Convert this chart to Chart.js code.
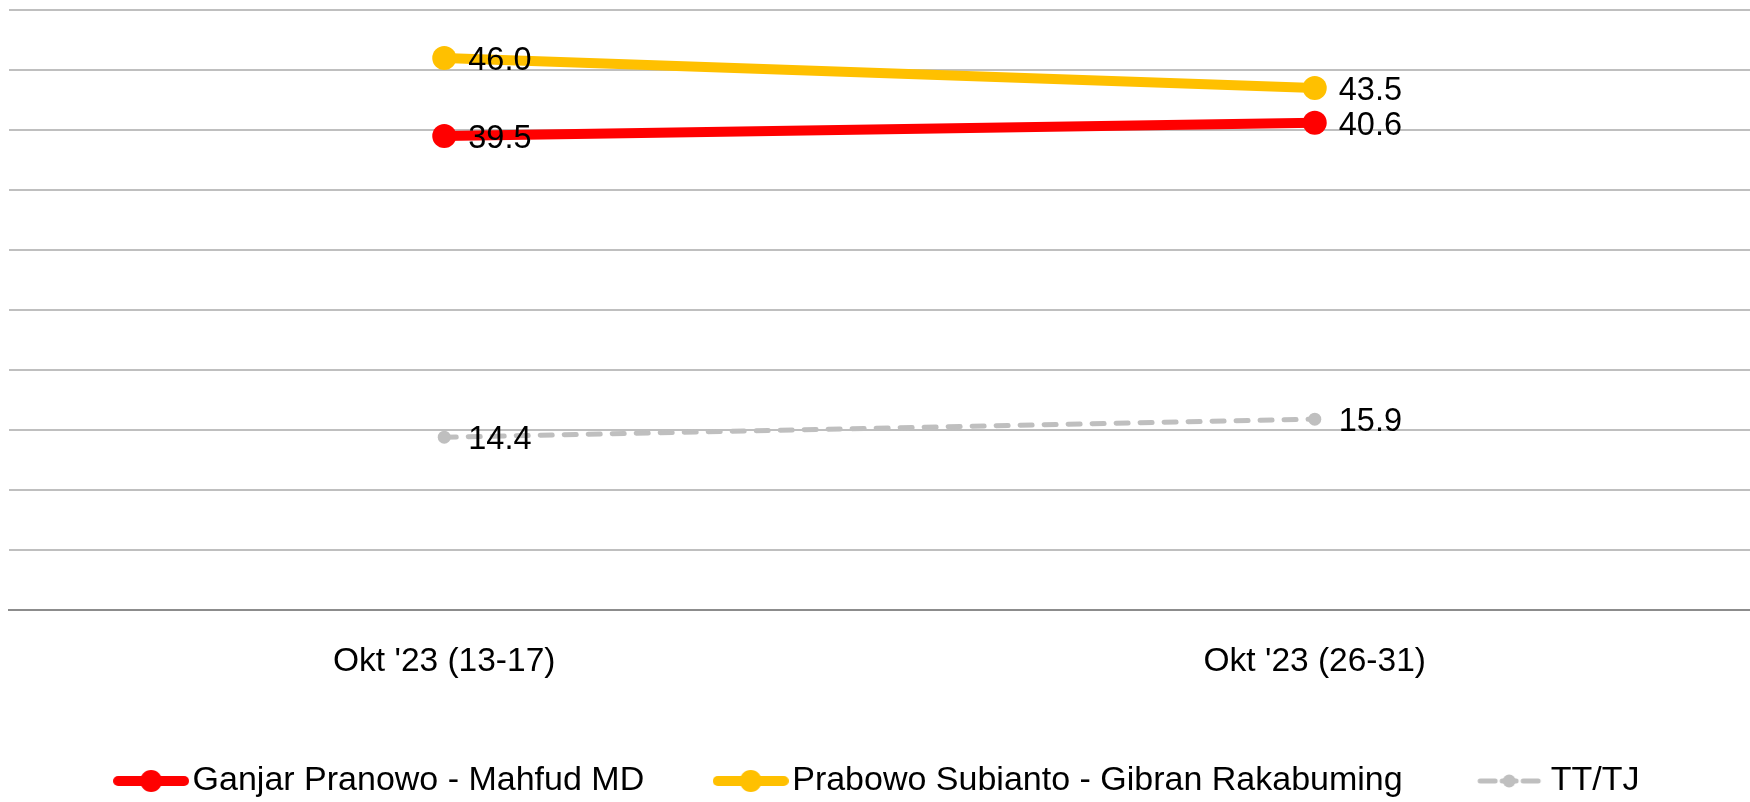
<!DOCTYPE html>
<html>
<head>
<meta charset="utf-8">
<script src="https://cdn.jsdelivr.net/npm/chart.js@4.4.0/dist/chart.umd.min.js"></script>
<style>
  html, body { margin: 0; padding: 0; background: #fff; }
</style>
</head>
<body>
<canvas id="survey" width="1750" height="802"></canvas>
<script>
const periods = ["Okt '23 (13-17)", "Okt '23 (26-31)"];
const ganjarMahfud = [39.5, 40.6];
const prabowoGibran = [46.0, 43.5];
const ttTj = [14.4, 15.9];
const seriesNames = ["Ganjar Pranowo - Mahfud MD", "Prabowo Subianto - Gibran Rakabuming", "TT/TJ"];
const yTicks = { min: 0, max: 50, step: 5 };

const FONT = "'Liberation Sans', Arial, sans-serif";

// little line+dot picture for each legend entry, like the office legend
const legendMarker = (color, lineW, radius, w) => {
  const c = document.createElement("canvas");
  c.width = w;
  c.height = 26;
  const g = c.getContext("2d");
  g.strokeStyle = color;
  g.lineWidth = lineW;
  g.lineCap = "round";
  g.beginPath();
  g.moveTo(lineW / 2, 13);
  g.lineTo(w - lineW / 2, 13);
  g.stroke();
  g.fillStyle = color;
  g.beginPath();
  g.arc(w / 2, 13, radius, 0, Math.PI * 2);
  g.fill();
  return c;
};

// dashed one: dash - dot - dash
const dashedMarker = (color) => {
  const c = document.createElement("canvas");
  c.width = 66;
  c.height = 26;
  const g = c.getContext("2d");
  g.strokeStyle = color;
  g.fillStyle = color;
  g.lineWidth = 5;
  g.lineCap = "round";
  g.beginPath();
  g.moveTo(4, 13); g.lineTo(19, 13);
  g.moveTo(47, 13); g.lineTo(62, 13);
  g.moveTo(26, 13); g.lineTo(40, 13);
  g.stroke();
  g.beginPath();
  g.arc(33, 13, 6.5, 0, Math.PI * 2);
  g.fill();
  return c;
};

const markers = [
  legendMarker("#ff0000", 10, 11, 76),
  legendMarker("#ffc000", 10, 11, 76),
  dashedMarker("#bfbfbf"),
];

// value labels to the right of every point
const valueLabels = {
  id: "valueLabels",
  afterDatasetsDraw(chart) {
    const ctx = chart.ctx;
    ctx.save();
    ctx.font = "32.5px " + FONT;
    ctx.fillStyle = "#000";
    ctx.textBaseline = "middle";
    chart.data.datasets.forEach((ds, i) => {
      chart.getDatasetMeta(i).data.forEach((pt, j) => {
        ctx.fillText(ds.data[j].toFixed(1), pt.x + 24, pt.y + 3);
      });
    });
    ctx.restore();
  },
};

new Chart(document.getElementById("survey"), {
  type: "line",
  data: {
    labels: periods,
    datasets: [
      {
        label: seriesNames[0],
        data: ganjarMahfud,
        borderColor: "#ff0000",
        backgroundColor: "#ff0000",
        borderWidth: 10,
        pointRadius: 12,
        pointBorderWidth: 0,
      },
      {
        label: seriesNames[1],
        data: prabowoGibran,
        borderColor: "#ffc000",
        backgroundColor: "#ffc000",
        borderWidth: 10,
        pointRadius: 12,
        pointBorderWidth: 0,
      },
      {
        label: seriesNames[2],
        data: ttTj,
        borderColor: "#bfbfbf",
        backgroundColor: "#bfbfbf",
        borderWidth: 5,
        borderDash: [12, 12],
        borderCapStyle: "round",
        pointRadius: 6.5,
        pointBorderWidth: 0,
      },
    ],
  },
  options: {
    responsive: false,
    animation: false,
    layout: { autoPadding: false, padding: { top: 10, left: 9, right: -7, bottom: -6 } },
    scales: {
      x: {
        offset: true,
        grid: { display: false },
        border: { display: true, color: "#8c8c8c", width: 2 },
        ticks: { color: "#000", padding: 24, font: { family: FONT, size: 33.5 } },
        afterFit(scale) { scale.height = 72; },
      },
      y: {
        min: yTicks.min,
        max: yTicks.max,
        ticks: { display: false, stepSize: yTicks.step },
        border: { display: false },
        grid: {
          drawTicks: false,
          lineWidth: 2,
          color: (c) => (c.tick && c.tick.value === 0 ? "rgba(0,0,0,0)" : "#bfbfbf"),
        },
      },
    },
    plugins: {
      tooltip: { enabled: false },
      legend: {
        position: "bottom",
        labels: {
          usePointStyle: true,
          pointStyleWidth: 49,
          padding: 82,
          color: "#000",
          font: { family: FONT, size: 34 },
          generateLabels(chart) {
            const items = Chart.defaults.plugins.legend.labels.generateLabels(chart);
            items.forEach((it, i) => { it.pointStyle = markers[i]; });
            return items;
          },
        },
      },
    },
  },
  plugins: [valueLabels],
});
</script>
</body>
</html>
